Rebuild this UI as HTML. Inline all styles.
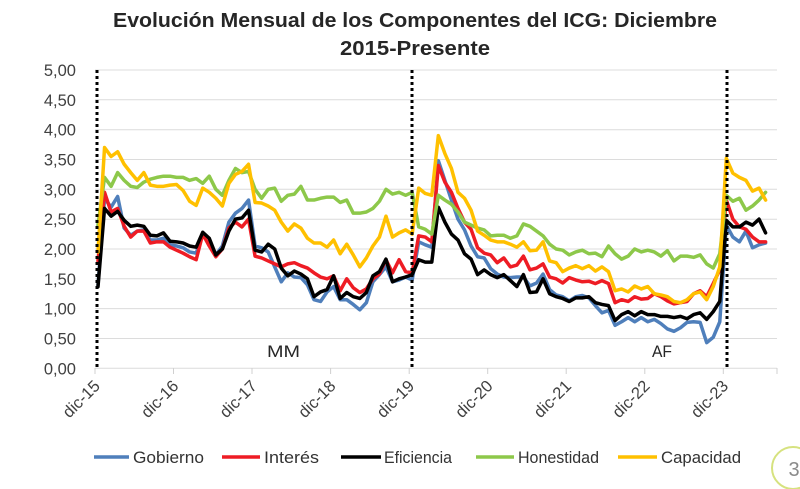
<!DOCTYPE html>
<html>
<head>
<meta charset="utf-8">
<style>
html,body{margin:0;padding:0;background:#fff;}
svg{display:block;}
text{font-family:"Liberation Sans",Arial,sans-serif;}
</style>
</head>
<body>
<svg width="800" height="489" viewBox="0 0 800 489" xmlns="http://www.w3.org/2000/svg">
<rect x="0" y="0" width="800" height="489" fill="#fff"/>
<!-- Title -->
<text x="415" y="27" text-anchor="middle" font-size="20" font-weight="bold" fill="#262626" textLength="604" lengthAdjust="spacingAndGlyphs">Evolución Mensual de los Componentes del ICG: Diciembre</text>
<text x="415" y="55" text-anchor="middle" font-size="20" font-weight="bold" fill="#262626" textLength="150" lengthAdjust="spacingAndGlyphs">2015-Presente</text>

<!-- Gridlines -->
<g stroke="#dcdcdc" stroke-width="1">
<line x1="95" y1="70" x2="777" y2="70"/>
<line x1="95" y1="99.8" x2="777" y2="99.8"/>
<line x1="95" y1="129.7" x2="777" y2="129.7"/>
<line x1="95" y1="159.5" x2="777" y2="159.5"/>
<line x1="95" y1="189.3" x2="777" y2="189.3"/>
<line x1="95" y1="219.2" x2="777" y2="219.2"/>
<line x1="95" y1="249" x2="777" y2="249"/>
<line x1="95" y1="278.8" x2="777" y2="278.8"/>
<line x1="95" y1="308.6" x2="777" y2="308.6"/>
<line x1="95" y1="338.5" x2="777" y2="338.5"/>
<line x1="95" y1="368.3" x2="777" y2="368.3"/>
</g>
<!-- x ticks -->
<g stroke="#d0d0d0" stroke-width="1">
<line x1="95" y1="368" x2="95" y2="374"/>
<line x1="173.5" y1="368" x2="173.5" y2="374"/>
<line x1="252" y1="368" x2="252" y2="374"/>
<line x1="330.6" y1="368" x2="330.6" y2="374"/>
<line x1="409.2" y1="368" x2="409.2" y2="374"/>
<line x1="487.7" y1="368" x2="487.7" y2="374"/>
<line x1="566.2" y1="368" x2="566.2" y2="374"/>
<line x1="644.8" y1="368" x2="644.8" y2="374"/>
<line x1="723.3" y1="368" x2="723.3" y2="374"/>
<line x1="777" y1="368" x2="777" y2="374"/>
</g>

<!-- Y labels -->
<g font-size="16.5" fill="#404040" text-anchor="end">
<text x="76" y="76">5,00</text>
<text x="76" y="105.8">4,50</text>
<text x="76" y="135.7">4,00</text>
<text x="76" y="165.5">3,50</text>
<text x="76" y="195.3">3,00</text>
<text x="76" y="225.2">2,50</text>
<text x="76" y="255">2,00</text>
<text x="76" y="284.8">1,50</text>
<text x="76" y="314.6">1,00</text>
<text x="76" y="344.5">0,50</text>
<text x="76" y="374.3">0,00</text>
</g>

<!-- X labels -->
<g font-size="16.5" fill="#404040" text-anchor="end">
<text transform="translate(101,387) rotate(-45)">dic-15</text>
<text transform="translate(179.5,387) rotate(-45)">dic-16</text>
<text transform="translate(258,387) rotate(-45)">dic-17</text>
<text transform="translate(336.6,387) rotate(-45)">dic-18</text>
<text transform="translate(415.2,387) rotate(-45)">dic-19</text>
<text transform="translate(493.7,387) rotate(-45)">dic-20</text>
<text transform="translate(572.2,387) rotate(-45)">dic-21</text>
<text transform="translate(650.8,387) rotate(-45)">dic-22</text>
<text transform="translate(729.3,387) rotate(-45)">dic-23</text>
</g>

<!-- Period labels -->
<text x="267" y="357" font-size="17" fill="#262626" textLength="33" lengthAdjust="spacingAndGlyphs">MM</text>
<text x="652" y="357" font-size="17" fill="#262626" textLength="20" lengthAdjust="spacingAndGlyphs">AF</text>

<!-- Series -->
<g transform="translate(98,368.3) scale(6.545,-59.66)" fill="none" stroke-linejoin="round" stroke-linecap="round">
<polyline vector-effect="non-scaling-stroke" stroke="#4f7fbb" stroke-width="3.5" points="0,1.4 1,2.85 2,2.7 3,2.88 4,2.35 5,2.23 6,2.3 7,2.32 8,2.15 9,2.15 10,2.18 11,2.07 12,2.05 13,2.02 14,1.95 15,1.93 16,2.25 17,2.12 18,1.9 19,2.05 20,2.45 21,2.6 22,2.68 23,2.82 24,2.05 25,2.02 26,1.95 27,1.7 28,1.45 29,1.6 30,1.53 31,1.52 32,1.4 33,1.15 34,1.12 35,1.28 36,1.37 37,1.15 38,1.15 39,1.07 40,0.98 41,1.1 42,1.45 43,1.57 44,1.7 45,1.45 46,1.48 47,1.53 48,1.48 49,2.12 50,2.07 51,2.03 52,3.48 53,3.15 54,2.82 55,2.5 56,2.32 57,2.05 58,1.87 59,1.85 60,1.67 61,1.58 62,1.53 63,1.52 64,1.53 65,1.53 66,1.38 67,1.43 68,1.58 69,1.32 70,1.23 71,1.2 72,1.13 73,1.2 74,1.22 75,1.18 76,1.05 77,0.93 78,0.97 79,0.72 80,0.78 81,0.85 82,0.78 83,0.85 84,0.78 85,0.82 86,0.75 87,0.66 88,0.62 89,0.68 90,0.77 91,0.78 92,0.77 93,0.43 94,0.52 95,0.78 96,2.4 97,2.2 98,2.12 99,2.3 100,2.02 101,2.07 102,2.1"/>
<polyline vector-effect="non-scaling-stroke" stroke="#ee1c24" stroke-width="3.5" points="0,1.8 1,2.95 2,2.62 3,2.68 4,2.38 5,2.2 6,2.3 7,2.3 8,2.1 9,2.12 10,2.12 11,2.03 12,1.98 13,1.93 14,1.87 15,1.82 16,2.25 17,2.05 18,1.87 19,2.0 20,2.35 21,2.45 22,2.37 23,2.5 24,1.88 25,1.85 26,1.8 27,1.75 28,1.7 29,1.75 30,1.77 31,1.72 32,1.68 33,1.6 34,1.53 35,1.5 36,1.55 37,1.3 38,1.5 39,1.35 40,1.27 41,1.33 42,1.5 43,1.58 44,1.82 45,1.6 46,1.82 47,1.62 48,1.6 49,2.22 50,2.2 51,2.12 52,3.4 53,3.12 54,2.95 55,2.68 56,2.45 57,2.33 58,2.02 59,1.93 60,1.9 61,1.77 62,1.85 63,1.7 64,1.73 65,1.88 66,1.65 67,1.68 68,1.75 69,1.53 70,1.5 71,1.43 72,1.52 73,1.48 74,1.45 75,1.46 76,1.42 77,1.47 78,1.42 79,1.1 80,1.15 81,1.12 82,1.2 83,1.16 84,1.17 85,1.25 86,1.2 87,1.13 88,1.08 89,1.1 90,1.12 91,1.25 92,1.3 93,1.2 94,1.42 95,1.65 96,2.82 97,2.5 98,2.37 99,2.33 100,2.2 101,2.12 102,2.12"/>
<polyline vector-effect="non-scaling-stroke" stroke="#000000" stroke-width="3.5" points="0,1.37 1,2.68 2,2.55 3,2.63 4,2.48 5,2.38 6,2.4 7,2.38 8,2.23 9,2.22 10,2.27 11,2.13 12,2.12 13,2.1 14,2.05 15,2.03 16,2.28 17,2.18 18,1.9 19,2.0 20,2.3 21,2.5 22,2.52 23,2.65 24,1.98 25,1.95 26,2.08 27,2.0 28,1.68 29,1.55 30,1.63 31,1.58 32,1.5 33,1.2 34,1.28 35,1.32 36,1.55 37,1.17 38,1.27 39,1.2 40,1.17 41,1.27 42,1.55 43,1.62 44,1.83 45,1.45 46,1.5 47,1.53 48,1.57 49,1.82 50,1.78 51,1.78 52,2.7 53,2.45 54,2.25 55,2.15 56,1.92 57,1.83 58,1.57 59,1.65 60,1.57 61,1.52 62,1.57 63,1.47 64,1.37 65,1.57 66,1.27 67,1.28 68,1.5 69,1.25 70,1.2 71,1.17 72,1.12 73,1.18 74,1.18 75,1.2 76,1.1 77,1.07 78,1.05 79,0.8 80,0.9 81,0.95 82,0.88 83,0.95 84,0.9 85,0.9 86,0.87 87,0.87 88,0.85 89,0.87 90,0.83 91,0.9 92,0.93 93,0.82 94,0.95 95,1.12 96,2.48 97,2.37 98,2.37 99,2.45 100,2.4 101,2.5 102,2.27"/>
<polyline vector-effect="non-scaling-stroke" stroke="#8dc84a" stroke-width="3.5" points="0,2.4 1,3.2 2,3.05 3,3.28 4,3.15 5,3.05 6,3.03 7,3.12 8,3.17 9,3.2 10,3.22 11,3.22 12,3.2 13,3.2 14,3.15 15,3.18 16,3.1 17,3.22 18,3.0 19,2.9 20,3.15 21,3.35 22,3.28 23,3.3 24,3.0 25,2.85 26,3.0 27,3.02 28,2.8 29,2.9 30,2.92 31,3.05 32,2.82 33,2.82 34,2.85 35,2.87 36,2.87 37,2.78 38,2.82 39,2.6 40,2.6 41,2.62 42,2.68 43,2.8 44,3.0 45,2.92 46,2.95 47,2.9 48,2.95 49,2.37 50,2.33 51,2.25 52,2.9 53,2.82 54,2.75 55,2.62 56,2.45 57,2.4 58,2.35 59,2.32 60,2.22 61,2.23 62,2.23 63,2.18 64,2.22 65,2.42 66,2.38 67,2.3 68,2.22 69,2.08 70,2.0 71,1.98 72,1.9 73,1.95 74,1.98 75,1.92 76,1.93 77,1.87 78,2.05 79,1.92 80,1.83 81,1.88 82,2.0 83,1.95 84,1.98 85,1.95 86,1.88 87,1.97 88,1.8 89,1.88 90,1.88 91,1.86 92,1.9 93,1.75 94,1.68 95,1.92 96,2.9 97,2.8 98,2.85 99,2.65 100,2.72 101,2.82 102,2.95"/>
<polyline vector-effect="non-scaling-stroke" stroke="#ffc000" stroke-width="3.5" points="0,1.95 1,3.7 2,3.55 3,3.63 4,3.42 5,3.28 6,3.15 7,3.28 8,3.07 9,3.05 10,3.05 11,3.07 12,3.08 13,2.98 14,2.8 15,2.73 16,3.02 17,2.95 18,2.85 19,2.72 20,3.1 21,3.25 22,3.3 23,3.42 24,2.78 25,2.77 26,2.72 27,2.65 28,2.45 29,2.3 30,2.42 31,2.35 32,2.18 33,2.1 34,2.1 35,2.03 36,2.15 37,1.92 38,2.08 39,1.9 40,1.7 41,1.85 42,2.05 43,2.2 44,2.55 45,2.2 46,2.27 47,2.32 48,2.25 49,3.02 50,2.93 51,2.9 52,3.9 53,3.6 54,3.35 55,2.95 56,2.85 57,2.65 58,2.3 59,2.23 60,2.15 61,2.12 62,2.12 63,2.08 64,2.03 65,2.12 66,1.97 67,1.98 68,2.12 69,1.8 70,1.77 71,1.62 72,1.68 73,1.72 74,1.67 75,1.72 76,1.63 77,1.7 78,1.62 79,1.3 80,1.33 81,1.28 82,1.38 83,1.33 84,1.37 85,1.25 86,1.23 87,1.2 88,1.12 89,1.1 90,1.15 91,1.25 92,1.28 93,1.15 94,1.37 95,1.7 96,3.52 97,3.27 98,3.2 99,3.15 100,2.97 101,3.02 102,2.82"/>
</g>

<!-- Dotted period lines -->
<g stroke="#000" stroke-width="3" stroke-dasharray="3 3">
<line x1="97" y1="70" x2="97" y2="368"/>
<line x1="412" y1="70" x2="412" y2="368"/>
<line x1="727" y1="70" x2="727" y2="368"/>
</g>

<!-- Legend -->
<g stroke-width="3.5">
<line x1="94" y1="457" x2="129" y2="457" stroke="#4f7fbb"/>
<line x1="222" y1="457" x2="260" y2="457" stroke="#ee1c24"/>
<line x1="341" y1="457" x2="381" y2="457" stroke="#000"/>
<line x1="476" y1="457" x2="514" y2="457" stroke="#8dc84a"/>
<line x1="618" y1="457" x2="657" y2="457" stroke="#ffc000"/>
</g>
<g font-size="16.5" fill="#333">
<text x="133" y="463" textLength="71" lengthAdjust="spacingAndGlyphs">Gobierno</text>
<text x="264" y="463" textLength="55" lengthAdjust="spacingAndGlyphs">Interés</text>
<text x="384" y="463" textLength="68" lengthAdjust="spacingAndGlyphs">Eficiencia</text>
<text x="518" y="463" textLength="81" lengthAdjust="spacingAndGlyphs">Honestidad</text>
<text x="661" y="463" textLength="80" lengthAdjust="spacingAndGlyphs">Capacidad</text>
</g>

<!-- Page number circle -->
<circle cx="793" cy="468" r="21" fill="none" stroke="#d6e27f" stroke-width="2"/>
<text x="794" y="476" text-anchor="middle" font-size="20" fill="#8a8a8a">3</text>
</svg>
</body>
</html>
